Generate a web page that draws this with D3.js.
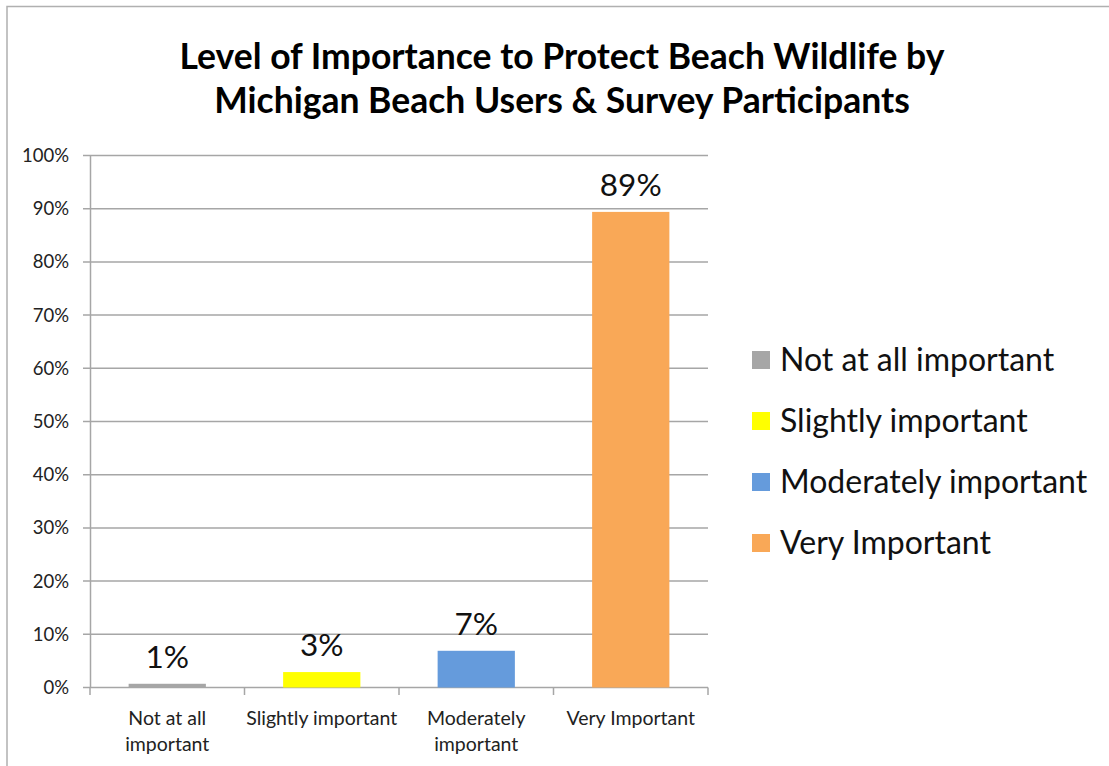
<!DOCTYPE html>
<html><head><meta charset="utf-8">
<script src="https://cdn.jsdelivr.net/npm/d3@7"></script>
<style>body{margin:0;background:#fff}svg{display:block}</style>
</head><body>
<script>
const categories = ["Not at all important", "Slightly important", "Moderately important", "Very Important"];
const axisLabels = [["Not at all", "important"], ["Slightly important"], ["Moderately", "important"], ["Very Important"]];
const values = [0.007, 0.029, 0.069, 0.894];
const colors = ["#a6a6a6", "#ffff00", "#659bdc", "#f9a857"];
const yTicks = [0, 0.1, 0.2, 0.3, 0.4, 0.5, 0.6, 0.7, 0.8, 0.9, 1.0];
const titleLines = ["Level of Importance to Protect Beach Wildlife by", "Michigan Beach Users & Survey Participants"];

const W = 1109, H = 766;
const svg = d3.select("body").append("svg").attr("width", W).attr("height", H);
const font = "Lato, 'Open Sans', sans-serif";

// frame
svg.append("path").attr("d", `M7,${H} V6.5 H${W}`).attr("fill", "none").attr("stroke", "#b0b0b0").attr("stroke-width", 1.5);

const x = d3.scaleBand().domain(categories).range([90, 708]).paddingInner(0.5).paddingOuter(0.25);
const y = d3.scaleLinear().domain([0, 1]).range([687.5, 155.5]);

// gridlines
svg.append("g").selectAll("line").data(yTicks).join("line")
  .attr("x1", 83).attr("x2", 708).attr("y1", d => y(d)).attr("y2", d => y(d))
  .attr("stroke", "#a6a6a6").attr("stroke-width", 1.5);

// y axis
const yAxis = d3.axisLeft(y).tickValues(yTicks).tickFormat(d3.format(".0%")).tickSize(0).tickPadding(21);
const gy = svg.append("g").attr("transform", "translate(90,0)").call(yAxis);
gy.select(".domain").attr("stroke", "#a6a6a6").attr("stroke-width", 1.5);
gy.selectAll("text").attr("font-family", font).attr("font-size", 18.5).attr("fill", "#222");

// x axis ticks
const bounds = [90, 244.5, 399, 553.5, 708];
svg.append("g").selectAll("line").data(bounds).join("line")
  .attr("x1", d => d).attr("x2", d => d).attr("y1", 687.5).attr("y2", 695)
  .attr("stroke", "#a6a6a6").attr("stroke-width", 1.5);

// bars
svg.append("g").selectAll("rect").data(values).join("rect")
  .attr("x", (d, i) => x(categories[i])).attr("width", x.bandwidth())
  .attr("y", d => y(d)).attr("height", d => y(0) - y(d))
  .attr("fill", (d, i) => colors[i]);

// value labels
svg.append("g").selectAll("text").data(values).join("text")
  .attr("x", (d, i) => x(categories[i]) + x.bandwidth() / 2)
  .attr("y", d => y(d) - 16)
  .attr("text-anchor", "middle").attr("font-family", font).attr("font-size", 31.5).attr("fill", "#111")
  .text(d => d3.format(".0%")(d));

// category labels
const cl = svg.append("g").selectAll("text").data(axisLabels).join("text")
  .attr("text-anchor", "middle").attr("font-family", font).attr("font-size", 19.5).attr("fill", "#222")
  .attr("x", (d, i) => x(categories[i]) + x.bandwidth() / 2).attr("y", 725);
cl.selectAll("tspan").data(d => d).join("tspan")
  .attr("x", function() { return this.parentNode.getAttribute("x"); })
  .attr("dy", (d, i) => i === 0 ? 0 : 26).text(d => d);

// title
svg.append("g").selectAll("text").data(titleLines).join("text")
  .attr("x", 562).attr("y", (d, i) => 69 + i * 44)
  .attr("text-anchor", "middle").attr("font-family", font).attr("font-weight", "bold")
  .attr("font-size", 35.5).attr("fill", "#000").text(d => d);

// legend
const lg = svg.append("g").selectAll("g").data(categories).join("g")
  .attr("transform", (d, i) => `translate(752,${360 + i * 61})`);
lg.append("rect").attr("x", 0).attr("y", -9).attr("width", 18).attr("height", 18).attr("fill", (d, i) => colors[i]);
lg.append("text").attr("x", 28).attr("y", 0).attr("dy", "0.35em")
  .attr("font-family", font).attr("font-size", 32).attr("fill", "#111").text(d => d);
</script>
</body></html>
